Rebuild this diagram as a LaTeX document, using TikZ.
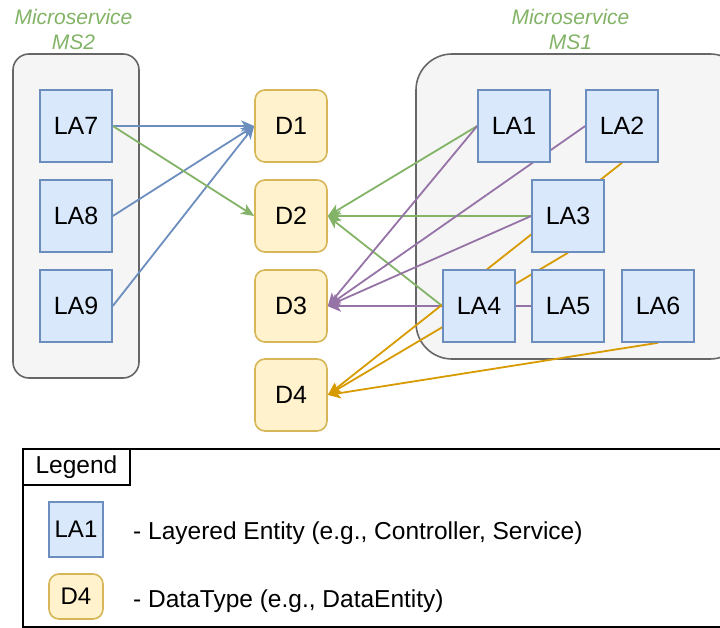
\documentclass[tikz,border=0pt]{standalone}
\usepackage{fontspec}
\setmainfont{Liberation Sans}
\usetikzlibrary{arrows.meta,positioning}
\definecolor{lablue}{HTML}{DAE8FC}
\definecolor{lablueline}{HTML}{6C8EBF}
\definecolor{dyellow}{HTML}{FFF2CC}
\definecolor{dyellowline}{HTML}{D6B656}
\definecolor{msgrey}{HTML}{F5F5F5}
\definecolor{msgreyline}{HTML}{666666}
\definecolor{egreen}{HTML}{82B366}
\definecolor{epurple}{HTML}{9673A6}
\definecolor{eorange}{HTML}{D79B00}
\pgfdeclarelayer{back}
\pgfdeclarelayer{edges}
\pgfsetlayers{back,edges,main}
\tikzset{
	la/.style={draw=lablueline,fill=lablue,line width=1.6pt,rectangle,minimum width=72pt,minimum height=72pt,inner sep=0pt,font=\fontsize{25}{30}\selectfont},
	dt/.style={draw=dyellowline,fill=dyellow,line width=1.6pt,rectangle,rounded corners=10pt,minimum width=72pt,minimum height=72pt,inner sep=0pt,font=\fontsize{25}{30}\selectfont},
	ms/.style={draw=msgreyline,fill=msgrey,line width=1.6pt,rectangle,inner sep=0pt},
	mstitle/.style={align=center,text=egreen,font=\fontsize{21}{25}\selectfont\itshape},
	legtext/.style={anchor=base west,inner sep=0pt,font=\fontsize{24.5}{28}\selectfont},
	every new ->/.style={shorten >=0pt},
	dep/.style={->,line width=1.8pt,>={Stealth[length=13pt,width=11pt,inset=3.5pt]}}
}

\begin{document}
\begin{tikzpicture}[x=1pt,y=-1pt]
			\useasboundingbox (0,0) rectangle (720,628);

			\node[mstitle] (T2) at (73.5,29) {Microservice\\MS2};
			\node[mstitle] (T1) at (570.5,29) {Microservice\\MS1};

			\node[la] (LA7) at (76,126) {LA7};
			\node[la] (LA8) at (76,216) {LA8};
			\node[la] (LA9) at (76,306) {LA9};

			\node[dt] (D1) at (291,126) {D1};
			\node[dt] (D2) at (291,216) {D2};
			\node[dt] (D3) at (291,306) {D3};
			\node[dt] (D4) at (291,395) {D4};

			\node[la] (LA1) at (514,126) {LA1};
			\node[la] (LA2) at (622,126) {LA2};
			\node[la] (LA3) at (568,216) {LA3};
			\node[la] (LA4) at (479,306) {LA4};
			\node[la] (LA5) at (568,306) {LA5};
			\node[la] (LA6) at (658,306) {LA6};

			\begin{pgfonlayer}{back}
				\node[ms,rounded corners=16pt,minimum width=126pt,minimum height=324pt] (MS2) at (76,216) {};
				\node[ms,rounded corners=36pt,minimum width=330pt,minimum height=305pt] (MS1) at (581,206.5) {};
			\end{pgfonlayer}

			\begin{pgfonlayer}{edges}
				\draw[dep,lablueline] (LA7.east) -- (D1.west);
				\draw[dep,lablueline] (LA8.east) -- (D1.west);
				\draw[dep,lablueline] (LA9.east) -- (D1.west);
				\draw[dep,egreen] (LA7.east) -- (D2.west);

				\draw[dep,egreen] (LA1.west) -- (D2.east);
				\draw[dep,egreen] (LA3.west) -- (D2.east);
				\draw[dep,egreen] (LA4.west) -- (D2.east);

				\draw[dep,epurple] (LA1.west) -- (D3.east);
				\draw[dep,epurple] (LA2.west) -- (D3.east);
				\draw[dep,epurple] (LA3.west) -- (D3.east);
				\draw[dep,epurple] (LA4.west) -- (D3.east);
				\draw[dep,epurple] (LA5.west) -- (D3.east);

				\draw[dep,eorange] (LA2.south) -- (D4.east);
				\draw[dep,eorange] (LA3.south) -- (D4.east);
				\draw[dep,eorange] (LA6.south) -- (D4.east);
			\end{pgfonlayer}

			\node[draw,line width=1.6pt,minimum width=712pt,minimum height=178pt,inner sep=0pt] (L) at (379,538) {};
			\node[draw,line width=1.6pt,minimum width=107pt,minimum height=36pt,inner sep=0pt,font=\fontsize{24.5}{28}\selectfont] (LH) at (76.5,467) {Legend};
			\node[la,minimum width=54pt,minimum height=55pt,font=\fontsize{24}{28}\selectfont] (LLA) at (76,529.5) {LA1};
			\node[dt,minimum width=54pt,minimum height=45pt,font=\fontsize{24}{28}\selectfont] (LD) at (76,596.5) {D4};
			\node[legtext] (LT1) at (133,539) {- Layered Entity (e.g., Controller, Service)};
			\node[legtext] (LT2) at (133,607.5) {- DataType (e.g., DataEntity)};
		\end{tikzpicture}
\end{document}
